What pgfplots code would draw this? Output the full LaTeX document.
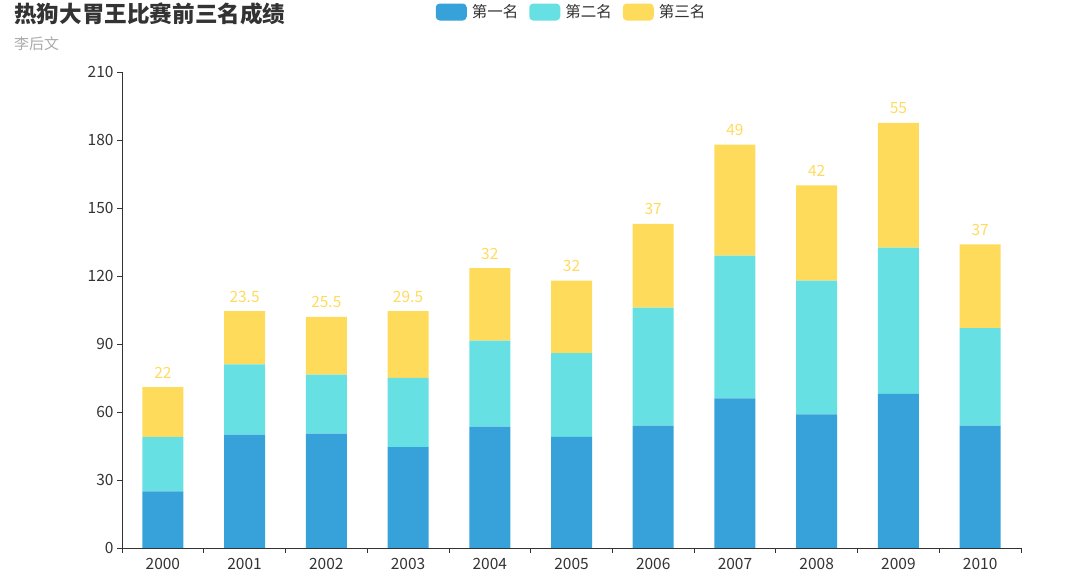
\documentclass[border=0pt]{standalone}
\usepackage{pgfplots}
\pgfplotsset{compat=1.18}
\usepackage{fontspec}
\setmainfont{Noto Sans CJK SC}
\definecolor{c1}{HTML}{37A2DA}
\definecolor{c2}{HTML}{67E0E3}
\definecolor{c3}{HTML}{FFDB5C}
\definecolor{txt}{HTML}{333333}
\definecolor{sub}{HTML}{AAAAAA}
\pgfplotsset{frame/.style={
    at={(122pt,40pt)}, anchor=south west,
    scale only axis, width=899pt, height=476pt,
    xmin=-0.5, xmax=10.5, ymin=0, ymax=210}}
\begin{document}
\begin{tikzpicture}
\path (0pt,0pt) rectangle (1089pt,588pt);
\node[anchor=west, inner sep=0, text=txt, font=\fontsize{22.6}{26}\selectfont\bfseries] at (14pt,574pt) {热狗大胃王比赛前三名成绩};
\node[anchor=west, inner sep=0, text=sub, font=\fontsize{15}{18}\selectfont] at (14pt,544pt) {李后文};
\begin{axis}[
    frame,
    ybar stacked, bar width=41pt,
    ytick={0,30,...,210},
    xtick={0,...,10},
    xticklabels={2000,2001,2002,2003,2004,2005,2006,2007,2008,2009,2010},
    minor xtick={-0.5,0.5,...,10.5},
    major x tick style={draw=none},
    tick align=outside, major tick length=5pt, minor tick length=5pt,
    tick style={txt, line width=0.8pt},
    axis x line*=bottom, axis y line*=left,
    axis line style={txt, line width=0.8pt, -},
    tick label style={font=\fontsize{15.5}{18}\selectfont, text=txt},
    xticklabel style={yshift=-2pt},
    /pgf/number format/assume math mode=true,
    xtick pos=bottom, ytick pos=left,
    legend columns=3,
    legend style={at={(0.5,1.126)}, anchor=center, draw=none,
        font=\fontsize{15.5}{18}\selectfont, text=txt,
        /tikz/every odd column/.append style={column sep=3pt},
        /tikz/every even column/.append style={column sep=9pt}},
    legend image code/.code={\fill[#1, rounded corners=4pt] (0pt,-8.5pt) rectangle (31pt,8.5pt);},
]
\addplot[fill=c1, draw=none] coordinates {
    (0,25) (1,50) (2,50.5) (3,44.5) (4,53.5) (5,49) (6,54) (7,66) (8,59) (9,68) (10,54)
};
\addlegendentry{第一名}
\addplot[fill=c2, draw=none] coordinates {
    (0,24) (1,31) (2,26) (3,30.5) (4,38) (5,37) (6,52) (7,63) (8,59) (9,64.5) (10,43)
};
\addlegendentry{第二名}
\addplot[fill=c3, draw=none] coordinates {
    (0,22) (1,23.5) (2,25.5) (3,29.5) (4,32) (5,32) (6,37) (7,49) (8,42) (9,55) (10,37)
};
\addlegendentry{第三名}
\end{axis}
% labels of the third place, at the top of each stack
\begin{axis}[frame, hide axis, clip=false]
\addplot[draw=none, point meta=explicit symbolic,
    nodes near coords,
    nodes near coords style={anchor=base, inner sep=0pt, yshift=9pt,
        text=c3, font=\fontsize{15.5}{18}\selectfont}] coordinates {
    (0,71) [22] (1,104.5) [23.5] (2,102) [25.5] (3,104.5) [29.5] (4,123.5) [32]
    (5,118) [32] (6,143) [37] (7,178) [49] (8,160) [42] (9,187.5) [55] (10,134) [37]
};
\end{axis}
\end{tikzpicture}
\end{document}
